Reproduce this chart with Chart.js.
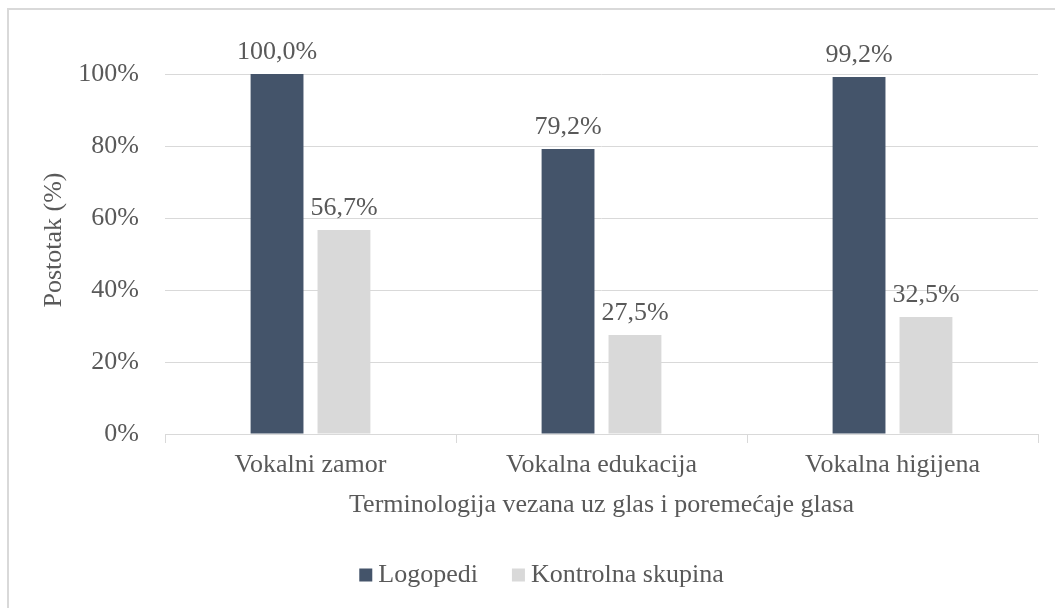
<!DOCTYPE html>
<html><head><meta charset="utf-8">
<script src="https://cdn.jsdelivr.net/npm/chart.js@4.4.0/dist/chart.umd.min.js"></script>
<style>
html,body{margin:0;padding:0;background:#fff;}
#wrap{position:relative;width:1055px;height:608px;overflow:hidden;background:#fff;}
#frame{position:absolute;left:7px;top:8px;width:1100px;height:700px;border-left:2px solid #d9d9d9;border-top:2px solid #d9d9d9;}
canvas{position:absolute;left:0;top:0;}
</style></head><body>
<div id="wrap"><div id="frame"></div><canvas id="c" width="1055" height="608"></canvas></div>
<script>
const categories = ['Vokalni zamor', 'Vokalna edukacija', 'Vokalna higijena'];
const logopedi = [100.0, 79.2, 99.2];
const kontrolna = [56.7, 27.5, 32.5];
const yTicks = [0, 20, 40, 60, 80, 100];
const seriesNames = ['Logopedi', 'Kontrolna skupina'];
const seriesColors = ['#44546A', '#D9D9D9'];
const xTitle = 'Terminologija vezana uz glas i poremećaje glasa';
const yTitle = 'Postotak (%)';

const FONT = '"Liberation Serif", "Times New Roman", serif';
const TXT = '#595959';
const GRID = '#d9d9d9';
const fmt = v => v.toFixed(1).replace('.', ',') + '%';

const labelPlugin = {
  id: 'barLabels',
  afterDatasetsDraw(chart) {
    const ctx = chart.ctx;
    ctx.save();
    ctx.font = '26px ' + FONT;
    ctx.fillStyle = TXT;
    ctx.textAlign = 'center';
    ctx.textBaseline = 'alphabetic';
    chart.data.datasets.forEach((ds, i) => {
      chart.getDatasetMeta(i).data.forEach((bar, j) => {
        ctx.fillText(fmt(ds.data[j]), bar.x, bar.y - 15);
      });
    });
    ctx.restore();
  }
};

const yTitlePlugin = {
  id: 'yTitle',
  afterDraw(chart) {
    const ctx = chart.ctx;
    ctx.save();
    ctx.font = '26px ' + FONT;
    ctx.fillStyle = TXT;
    ctx.textAlign = 'center';
    ctx.textBaseline = 'middle';
    ctx.translate(54, 240);
    ctx.rotate(-Math.PI / 2);
    ctx.fillText(yTitle, 0, 0);
    ctx.restore();
  }
};

const legendPlugin = {
  id: 'customLegend',
  afterDraw(chart) {
    const ctx = chart.ctx;
    ctx.save();
    ctx.font = '26px ' + FONT;
    ctx.textBaseline = 'middle';
    ctx.textAlign = 'left';
    const box = 13, gap = 6, spacing = 34;
    const items = chart.data.datasets.map(ds => ({ label: ds.label, color: ds.backgroundColor, w: ctx.measureText(ds.label).width }));
    let total = 0;
    items.forEach((it, i) => { total += box + gap + it.w + (i ? spacing : 0); });
    let x = 541.5 - total / 2;
    const cy = 575;
    items.forEach((it, i) => {
      if (i) x += spacing;
      ctx.fillStyle = it.color;
      ctx.fillRect(x, cy - 6.5, box, box);
      x += box + gap;
      ctx.fillStyle = TXT;
      ctx.fillText(it.label, x, cy);
      x += it.w;
    });
    ctx.restore();
  }
};

new Chart(document.getElementById('c'), {
  type: 'bar',
  data: {
    labels: categories,
    datasets: [
      { label: seriesNames[0], data: logopedi, backgroundColor: seriesColors[0], categoryPercentage: 0.46, barPercentage: 0.79 },
      { label: seriesNames[1], data: kontrolna, backgroundColor: seriesColors[1], categoryPercentage: 0.46, barPercentage: 0.79 }
    ]
  },
  options: {
    responsive: false,
    animation: false,
    layout: { padding: { left: 0, top: 74, right: 17, bottom: 87 } },
    plugins: { legend: { display: false }, tooltip: { enabled: false } },
    scales: {
      x: {
        grid: { offset: true, drawOnChartArea: false, drawTicks: true, tickLength: 9, color: GRID, lineWidth: 1 },
        border: { display: true, color: GRID, width: 1 },
        ticks: { color: TXT, font: { family: FONT, size: 26 }, padding: 7, maxRotation: 0 },
        title: { display: true, text: xTitle, color: TXT, font: { family: FONT, size: 26 }, padding: 0 },
        afterFit(scale) { scale.height = 87; }
      },
      y: {
        min: 0, max: 100,
        afterBuildTicks(scale) { scale.ticks = yTicks.map(v => ({ value: v })); },
        grid: { color: GRID, lineWidth: 1, drawTicks: false },
        border: { display: false },
        ticks: { color: TXT, font: { family: FONT, size: 26 }, padding: 26, callback: v => v + '%' },
        title: { display: false },
        afterFit(scale) { scale.width = 165; }
      }
    }
  },
  plugins: [labelPlugin, yTitlePlugin, legendPlugin]
});
</script>
</body></html>
